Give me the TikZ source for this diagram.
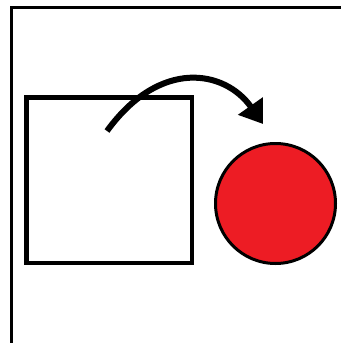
\documentclass[tikz,border=0pt]{standalone}
\usepackage{tikz}
\usetikzlibrary{arrows.meta}
\definecolor{ballred}{RGB}{237,28,36}

\begin{document}
\begin{tikzpicture}[x=1pt,y=-1pt,>={Triangle[length=22pt,width=29pt]}]
    \useasboundingbox (0,0) rectangle (341,343);
    \draw[line width=3pt] (11,343)--(11,7)--(341,7);
    \draw[line width=4.5pt] (26.25,97.25) rectangle (191.75,262.75);
    \filldraw[fill=ballred,line width=3pt] (275.5,203.5) circle (60);
    \coordinate (start) at (107,131);
    \coordinate (tip) at (263,124);
    \draw[line width=6pt,->] (start)..controls(160,58)and(225,70)..(tip);
\end{tikzpicture}
\end{document}
